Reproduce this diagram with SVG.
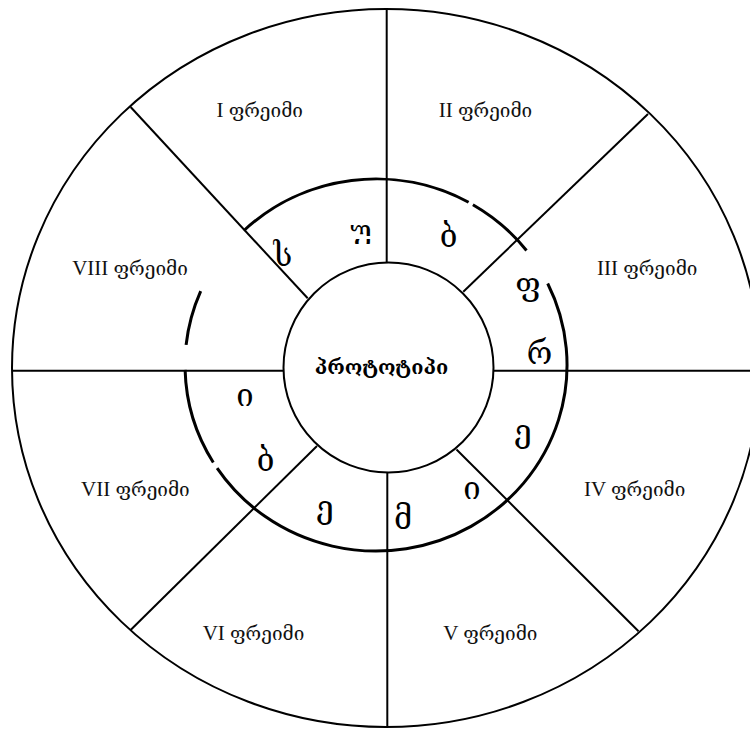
<svg xmlns="http://www.w3.org/2000/svg" width="750" height="729" viewBox="0 0 750 729">
<style>
.ln{stroke:#000;stroke-width:2;fill:none}
.ring{stroke:#000;stroke-width:3;fill:none}
.lbl{font-family:"Liberation Serif","DejaVu Serif",serif;font-size:21px;text-anchor:middle;fill:#111}
.ge{font-family:"DejaVu Serif",serif;font-size:19px}
.rl{font-family:"DejaVu Serif",serif;font-size:31px;text-anchor:middle;fill:#000}
.ctr{font-family:"DejaVu Serif",serif;font-size:20px;font-weight:bold;text-anchor:middle;fill:#000}
</style>
<defs>
<clipPath id="cu"><rect x="335" y="200" width="55" height="36"/><rect x="335" y="239" width="55" height="5"/></clipPath>
</defs>
<rect width="750" height="729" fill="#fff"/>
<g id="outer-frame">
<ellipse class="ln" cx="386" cy="368" rx="374" ry="359"/>
</g>
<g id="connectors">
<line class="ln" x1="386.7" y1="9" x2="386.7" y2="262"/>
<line class="ln" x1="387.3" y1="473" x2="387.3" y2="727"/>
<line class="ln" x1="12" y1="370.7" x2="284" y2="370.7"/>
<line class="ln" x1="493" y1="370.7" x2="750" y2="370.7"/>
<line class="ln" x1="130.6" y1="107" x2="307.7" y2="298.3"/>
<line class="ln" x1="648" y1="114" x2="463.3" y2="291.7"/>
<line class="ln" x1="638.5" y1="631.3" x2="456.5" y2="449.5"/>
<line class="ln" x1="130.6" y1="630" x2="317" y2="446"/>
</g>
<g id="subframe-ring">
<path class="ring" d="M244.0,230.5 A191,186 0 0 1 468.6,202.3"/>
<path class="ring" d="M472.9,204.7 A191,186 0 0 1 526.5,250.5"/>
<path class="ring" d="M547.7,283.5 A191,186 0 0 1 217.1,468.2"/>
<path class="ring" d="M213.3,462.5 A191,186 0 0 1 185.1,369.9"/>
<path class="ring" d="M186.1,344.9 A191,186 0 0 1 200.7,291.1"/>
<text class="rl" x="283" y="266">ს</text>
<text class="rl" x="361" y="242" clip-path="url(#cu)">უ</text>
<text class="rl" x="448.7" y="247">ბ</text>
<text class="rl" x="528" y="295">ფ</text>
<text class="rl" x="539.5" y="364">რ</text>
<text class="rl" x="523" y="442">ე</text>
<text class="rl" x="472" y="499">ი</text>
<text class="rl" x="403" y="529">მ</text>
<text class="rl" x="325" y="518">ე</text>
<text class="rl" x="265.5" y="471">ბ</text>
<text class="rl" x="245" y="406">ი</text>
</g>
<g id="prototype">
<circle class="ln" cx="388.5" cy="367.5" r="105"/>
<text class="ctr" x="381.5" y="374">პროტოტიპი</text>
</g>
<g id="frame-1"><text class="lbl" x="259.7" y="117">I <tspan class="ge">ფრეიმი</tspan></text></g>
<g id="frame-2"><text class="lbl" x="485.5" y="117">II <tspan class="ge">ფრეიმი</tspan></text></g>
<g id="frame-3"><text class="lbl" x="647.2" y="275">III <tspan class="ge">ფრეიმი</tspan></text></g>
<g id="frame-4"><text class="lbl" x="634.7" y="496">IV <tspan class="ge">ფრეიმი</tspan></text></g>
<g id="frame-5"><text class="lbl" x="490.3" y="640">V <tspan class="ge">ფრეიმი</tspan></text></g>
<g id="frame-6"><text class="lbl" x="253.5" y="640">VI <tspan class="ge">ფრეიმი</tspan></text></g>
<g id="frame-7"><text class="lbl" x="135.4" y="496">VII <tspan class="ge">ფრეიმი</tspan></text></g>
<g id="frame-8"><text class="lbl" x="130" y="275">VIII <tspan class="ge">ფრეიმი</tspan></text></g>
</svg>
